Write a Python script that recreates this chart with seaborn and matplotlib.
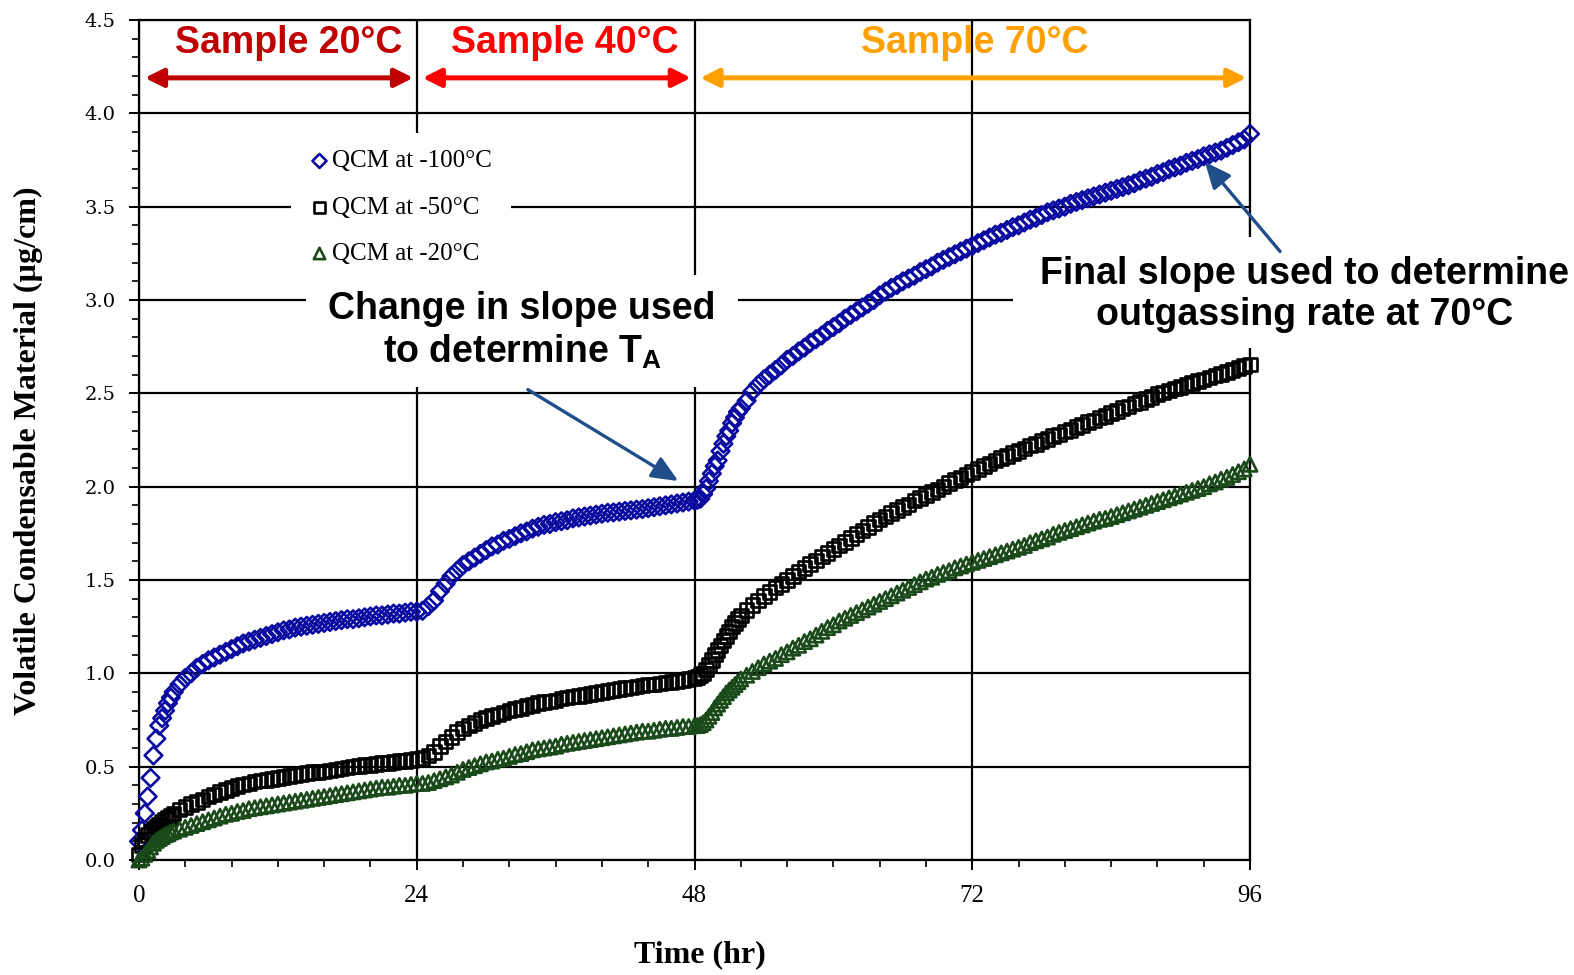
import numpy as np
import pandas as pd
import matplotlib
matplotlib.use("Agg")
import matplotlib.pyplot as plt
import seaborn as sns
from matplotlib.patches import Rectangle
from matplotlib.ticker import MultipleLocator, FormatStrFormatter

# sampling times (hr): finer steps where the curves climb fast
hours_a = np.arange(0, 3, 0.25)
hours_b = np.arange(3, 48, 0.5)
hours_c = np.arange(48, 52, 0.25)
hours_d = np.arange(52, 96.5, 0.5)

# QCM at -100C
blue_a = [0.10, 0.16, 0.25, 0.34, 0.44, 0.56, 0.65, 0.72, 0.76, 0.80, 0.84, 0.87]
blue_b = [0.90, 0.94, 0.975, 1.00, 1.03, 1.05, 1.07, 1.085, 1.10, 1.115,
          1.13, 1.145, 1.16, 1.17, 1.18, 1.19, 1.20, 1.21, 1.22, 1.23,
          1.235, 1.245, 1.25, 1.255, 1.26, 1.265, 1.27, 1.275, 1.28, 1.285,
          1.29, 1.29, 1.295, 1.30, 1.305, 1.31, 1.31, 1.315, 1.32, 1.32,
          1.325, 1.33, 1.33, 1.335, 1.36, 1.39, 1.44, 1.48, 1.52, 1.55,
          1.58, 1.60, 1.62, 1.64, 1.66, 1.68, 1.69, 1.71, 1.72, 1.735,
          1.75, 1.76, 1.775, 1.785, 1.795, 1.80, 1.81, 1.815, 1.82, 1.83,
          1.835, 1.84, 1.845, 1.85, 1.855, 1.86, 1.862, 1.866, 1.87, 1.873,
          1.877, 1.88, 1.885, 1.89, 1.895, 1.90, 1.905, 1.91, 1.915, 1.92]
blue_c = [1.925, 1.93, 1.935, 1.96, 1.99, 2.03, 2.07, 2.11,
          2.14, 2.19, 2.23, 2.27, 2.30, 2.34, 2.37, 2.40]
blue_d = [2.42, 2.46, 2.51, 2.545, 2.575, 2.60, 2.625, 2.65, 2.68, 2.70,
          2.725, 2.745, 2.77, 2.79, 2.81, 2.835, 2.855, 2.875, 2.90, 2.92,
          2.94, 2.96, 2.98, 3.00, 3.025, 3.045, 3.065, 3.08, 3.10, 3.115,
          3.13, 3.15, 3.165, 3.18, 3.20, 3.215, 3.23, 3.245, 3.26, 3.275,
          3.29, 3.305, 3.32, 3.335, 3.35, 3.36, 3.375, 3.39, 3.40, 3.415,
          3.43, 3.44, 3.455, 3.47, 3.48, 3.49, 3.50, 3.515, 3.525, 3.535,
          3.545, 3.555, 3.565, 3.575, 3.585, 3.595, 3.605, 3.615, 3.625, 3.64,
          3.65, 3.66, 3.675, 3.685, 3.70, 3.71, 3.72, 3.735, 3.745, 3.755,
          3.77, 3.78, 3.79, 3.80, 3.815, 3.83, 3.845, 3.86, 3.89]

# QCM at -50C
black_a = [0.03, 0.08, 0.11, 0.135, 0.15, 0.165, 0.18, 0.19, 0.205, 0.215, 0.225, 0.235]
black_b = [0.25, 0.27, 0.285, 0.30, 0.31, 0.325, 0.34, 0.35, 0.365, 0.375,
           0.385, 0.395, 0.405, 0.41, 0.42, 0.425, 0.43, 0.435, 0.44, 0.445,
           0.45, 0.455, 0.46, 0.465, 0.47, 0.47, 0.475, 0.48, 0.485, 0.49,
           0.495, 0.50, 0.505, 0.51, 0.51, 0.515, 0.52, 0.52, 0.525, 0.53,
           0.53, 0.535, 0.54, 0.545, 0.56, 0.58, 0.61, 0.635, 0.66, 0.685,
           0.705, 0.72, 0.735, 0.75, 0.76, 0.77, 0.78, 0.79, 0.80, 0.81,
           0.815, 0.825, 0.83, 0.84, 0.845, 0.85, 0.855, 0.865, 0.87, 0.875,
           0.88, 0.885, 0.89, 0.895, 0.90, 0.905, 0.91, 0.915, 0.92, 0.925,
           0.93, 0.935, 0.94, 0.94, 0.945, 0.95, 0.955, 0.96, 0.965, 0.97]
black_c = [0.975, 0.98, 0.99, 1.00, 1.02, 1.045, 1.07, 1.10,
           1.125, 1.15, 1.175, 1.20, 1.225, 1.25, 1.27, 1.29]
black_d = [1.31, 1.34, 1.365, 1.39, 1.415, 1.435, 1.46, 1.48, 1.50, 1.52,
           1.545, 1.565, 1.585, 1.605, 1.625, 1.645, 1.665, 1.685, 1.705, 1.725,
           1.745, 1.765, 1.785, 1.805, 1.825, 1.84, 1.86, 1.875, 1.89, 1.905,
           1.925, 1.94, 1.955, 1.97, 1.985, 2.00, 2.02, 2.035, 2.05, 2.065,
           2.08, 2.095, 2.11, 2.125, 2.14, 2.155, 2.165, 2.18, 2.19, 2.205,
           2.22, 2.23, 2.245, 2.255, 2.27, 2.28, 2.295, 2.305, 2.32, 2.33,
           2.345, 2.355, 2.37, 2.38, 2.395, 2.405, 2.42, 2.43, 2.445, 2.455,
           2.47, 2.48, 2.495, 2.505, 2.515, 2.525, 2.535, 2.545, 2.555, 2.565,
           2.575, 2.585, 2.595, 2.605, 2.615, 2.625, 2.635, 2.645, 2.655]

# QCM at -20C
green_a = [0.0, 0.01, 0.03, 0.05, 0.07, 0.09, 0.105, 0.115, 0.125, 0.135, 0.14, 0.15]
green_b = [0.155, 0.165, 0.175, 0.185, 0.195, 0.205, 0.215, 0.225, 0.235, 0.245,
           0.25, 0.26, 0.265, 0.275, 0.28, 0.285, 0.29, 0.295, 0.30, 0.305,
           0.31, 0.315, 0.32, 0.325, 0.33, 0.335, 0.34, 0.345, 0.35, 0.355,
           0.36, 0.365, 0.37, 0.375, 0.38, 0.385, 0.39, 0.39, 0.395, 0.40,
           0.40, 0.405, 0.41, 0.41, 0.415, 0.425, 0.435, 0.445, 0.455, 0.47,
           0.485, 0.495, 0.505, 0.515, 0.525, 0.53, 0.54, 0.545, 0.555, 0.565,
           0.57, 0.58, 0.59, 0.595, 0.60, 0.605, 0.61, 0.62, 0.625, 0.63,
           0.635, 0.64, 0.645, 0.65, 0.655, 0.66, 0.665, 0.67, 0.675, 0.68,
           0.685, 0.69, 0.69, 0.695, 0.70, 0.705, 0.705, 0.71, 0.715, 0.715]
green_c = [0.72, 0.72, 0.725, 0.735, 0.75, 0.77, 0.79, 0.815,
           0.835, 0.855, 0.875, 0.895, 0.91, 0.925, 0.94, 0.955]
green_d = [0.97, 0.99, 1.01, 1.03, 1.05, 1.065, 1.08, 1.10, 1.115, 1.135,
           1.15, 1.17, 1.185, 1.205, 1.225, 1.245, 1.26, 1.28, 1.295, 1.31,
           1.325, 1.34, 1.355, 1.37, 1.385, 1.40, 1.415, 1.43, 1.445, 1.46,
           1.475, 1.49, 1.505, 1.515, 1.53, 1.54, 1.55, 1.565, 1.575, 1.585,
           1.595, 1.605, 1.615, 1.625, 1.635, 1.645, 1.655, 1.665, 1.675, 1.685,
           1.70, 1.71, 1.72, 1.73, 1.745, 1.755, 1.765, 1.775, 1.785, 1.795,
           1.805, 1.815, 1.825, 1.83, 1.84, 1.85, 1.86, 1.87, 1.88, 1.89,
           1.90, 1.91, 1.92, 1.93, 1.94, 1.95, 1.96, 1.97, 1.98, 1.99,
           2.00, 2.015, 2.025, 2.04, 2.05, 2.065, 2.08, 2.095, 2.12]

series_labels = ["QCM at -100°C", "QCM at -50°C", "QCM at -20°C"]
series_colors = ["#0A0AA0", "#000000", "#1A4A1A"]
series_markers = ["D", "s", "^"]
series_sizes = [80, 95, 105]

phase_labels = ["Sample 20°C", "Sample 40°C", "Sample 70°C"]
phase_bounds = [(0, 24), (24, 48), (48, 96)]
phase_label_x = [12.9, 36.8, 72.2]
phase_colors = ["#C00000", "#FF0000", "#FFA000"]

hours = np.concatenate([hours_a, hours_b, hours_c, hours_d])
df = pd.DataFrame({
    "hours": np.tile(hours, 3),
    "vcm": blue_a + blue_b + blue_c + blue_d
           + black_a + black_b + black_c + black_d
           + green_a + green_b + green_c + green_d,
    "qcm": np.repeat(series_labels, len(hours)),
})

sns.set_style("white")
plt.rcParams["text.color"] = "black"
plt.rcParams["xtick.color"] = "black"
plt.rcParams["ytick.color"] = "black"
plt.rcParams["mathtext.fontset"] = "custom"
plt.rcParams["mathtext.bf"] = "Liberation Sans:bold"

W, H = 1574, 975
fig = plt.figure(figsize=(W / 100, H / 100), dpi=100)
ax = fig.add_axes([139 / W, 1 - 860 / H, 1111 / W, 840 / H])


def fig_box(x0, y0, x1, y1):
    # white patch given in figure pixels (top-left origin)
    return Rectangle((x0 / W, 1 - y1 / H), (x1 - x0) / W, (y1 - y0) / H,
                     transform=fig.transFigure, facecolor="white",
                     edgecolor="none", zorder=2.6, clip_on=False)


for lab, col, mk, sz in zip(series_labels, series_colors, series_markers, series_sizes):
    sub = df[df["qcm"] == lab]
    sns.scatterplot(data=sub, x="hours", y="vcm", ax=ax, marker=mk, s=sz,
                    facecolor="none", edgecolor=col, linewidth=1.9, label=lab,
                    zorder=3, legend=False, clip_on=False)

ax.set_xlim(0, 96)
ax.set_ylim(0, 4.5)
ax.xaxis.set_major_locator(MultipleLocator(24))
ax.xaxis.set_minor_locator(MultipleLocator(4))
ax.yaxis.set_major_locator(MultipleLocator(0.5))
ax.yaxis.set_minor_locator(MultipleLocator(0.1))
ax.yaxis.set_major_formatter(FormatStrFormatter("%.1f"))
ax.set_axisbelow(True)
ax.grid(True, which="major", color="black", linewidth=1.6)
for sp in ax.spines.values():
    sp.set_color("black")
    sp.set_linewidth(1.6)
ax.tick_params(which="major", direction="out", length=7, width=1.4, color="black",
               bottom=True, left=True)
ax.tick_params(which="minor", direction="out", length=5, width=1.2, color="black",
               bottom=True, left=True)
ax.tick_params(axis="y", pad=10)
ax.tick_params(axis="x", pad=11)
for t in ax.get_yticklabels():
    t.set_fontfamily("DejaVu Serif")
    t.set_fontsize(14)
for t in ax.get_xticklabels():
    t.set_fontfamily("Liberation Serif")
    t.set_fontsize(18)
ax.set_xlabel("")
ax.set_ylabel("")

# white boxes that break the grid behind the legend and the notes
ax.add_patch(fig_box(291, 133, 511, 277))
ax.add_patch(fig_box(306, 275, 738, 387))
ax.add_patch(fig_box(1013, 237, 1574, 348))

leg = ax.legend(loc="upper left", bbox_to_anchor=((302 - 139) / 1111, (860 - 140) / 840),
                frameon=False, prop={"family": "Liberation Serif", "size": 18},
                handlelength=0.6, handletextpad=0.2, labelspacing=0.95,
                borderaxespad=0, markerscale=0.8)
leg.set_zorder(5)

# phase headers with double arrows
for lab, (t0, t1), tx, col in zip(phase_labels, phase_bounds, phase_label_x, phase_colors):
    ax.annotate("", xy=(t1 - 0.3, 4.19), xytext=(t0 + 0.5, 4.19),
                arrowprops=dict(arrowstyle="<|-|>,head_length=1.1,head_width=0.55",
                                color=col, lw=3.6, shrinkA=0, shrinkB=0,
                                mutation_scale=10), zorder=6)
    ax.text(tx, 4.375, lab, color=col, ha="center", va="center",
            fontsize=27, fontweight="bold", family="Liberation Sans", zorder=6)

arrow_blue = "#1F4E8A"
ax.annotate("", xy=(46.6, 2.03), xytext=(33.6, 2.52),
            arrowprops=dict(arrowstyle="-|>,head_length=1.6,head_width=0.7",
                            color=arrow_blue, lw=2.4, shrinkA=0, shrinkB=0,
                            mutation_scale=10), zorder=6)
ax.annotate("", xy=(92.1, 3.74), xytext=(98.6, 3.26),
            arrowprops=dict(arrowstyle="-|>,head_length=1.6,head_width=0.7",
                            color=arrow_blue, lw=2.4, shrinkA=0, shrinkB=0,
                            mutation_scale=10), zorder=6, annotation_clip=False)

ax.text(33.1, 2.835, "Change in slope used\nto determine T$_\\mathbf{A}$", ha="center",
        va="center", fontsize=27, fontweight="bold", family="Liberation Sans",
        color="black", linespacing=1.2, zorder=6)
ax.text(100.7, 3.03, "Final slope used to determine\noutgassing rate at 70°C",
        ha="center", va="center", fontsize=27, fontweight="bold",
        family="Liberation Sans", color="black", linespacing=1.2, zorder=6,
        clip_on=False)

fig.text(28 / W, 1 - 451 / H, "Volatile Condensable Material (µg/cm)", rotation=90,
         ha="center", va="center", fontsize=23, fontweight="bold",
         family="Liberation Serif", color="black")
fig.text(700 / W, 1 - 955 / H, "Time (hr)", ha="center", va="center", fontsize=23,
         fontweight="bold", family="Liberation Serif", color="black")

fig.savefig("out.png", dpi=100, facecolor="white")
